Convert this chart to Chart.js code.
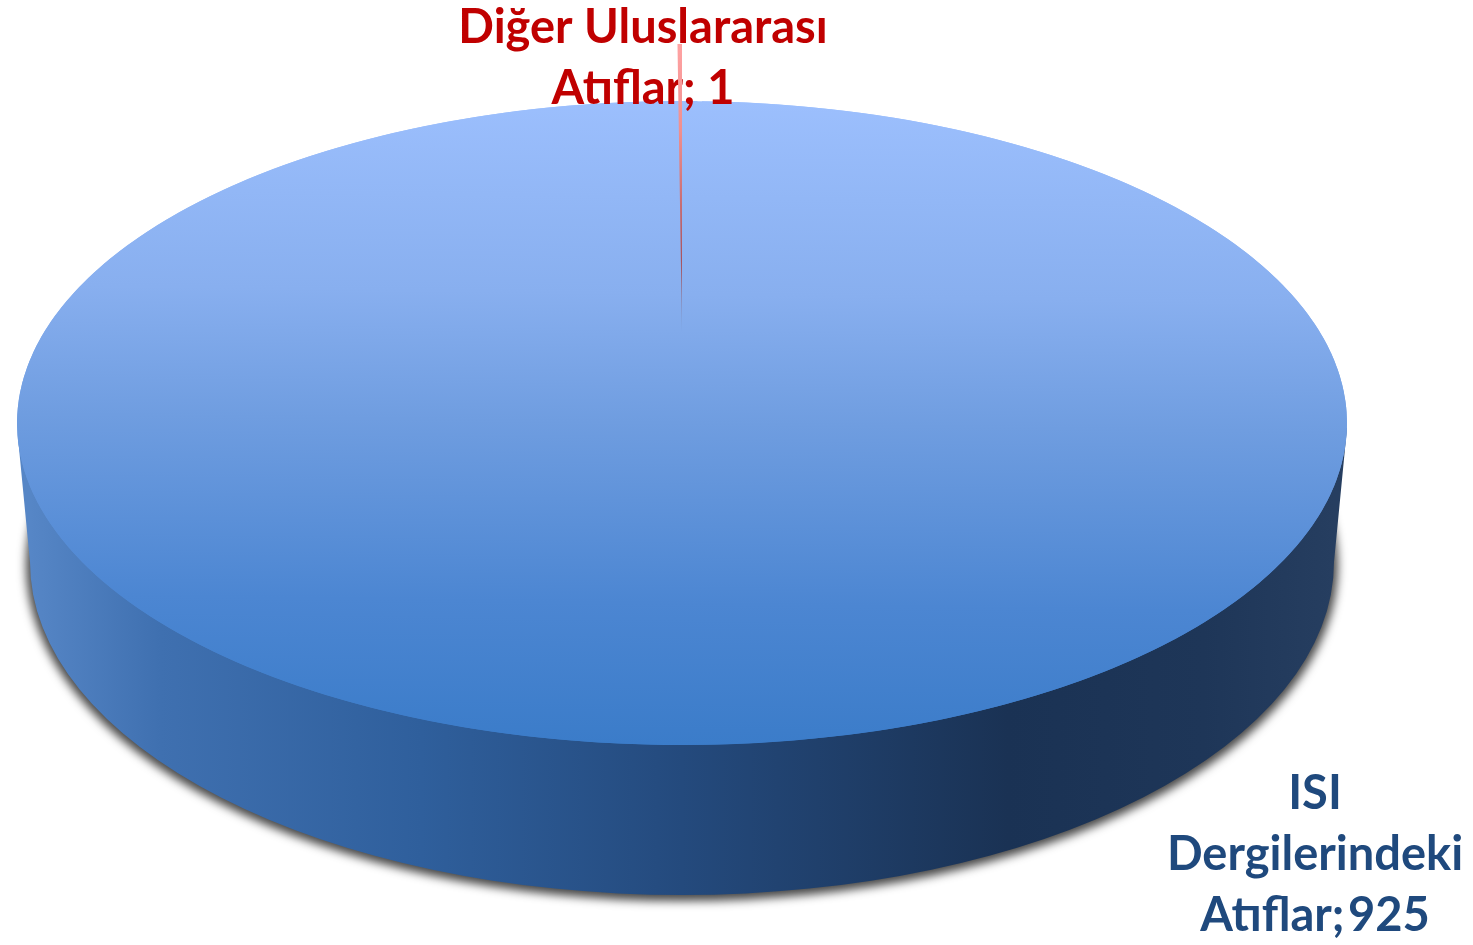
<!DOCTYPE html>
<html lang="tr">
<head>
<meta charset="utf-8">
<title>Atıflar</title>
<style>html,body{margin:0;padding:0;background:#fff;overflow:hidden}canvas{display:block}</style>
<script src="https://cdn.jsdelivr.net/npm/chart.js@4"></script>
</head>
<body>
<canvas id="c" width="1473" height="945"></canvas>
<script>
const categories = ["ISI Dergilerindeki Atıflar", "Diğer Uluslararası Atıflar"];
const seriesValues = [925, 1];
const isiLabelLines = ["ISI", "Dergilerindeki", "Atıflar; 925"];
const otherLabelLines = ["Diğer Uluslararası", "Atıflar; 1"];

const TOP = {cx: 682, cy: 423, rx: 665, ry: 322};
const BOTTOM = {cx: 682, cy: 562, rx: 652, ry: 333};
const SLIVER = {cx: 682, cy: 333, rx: 665, ry: 289};
const FONT = "bold 47px Lato, 'Open Sans', sans-serif";

function geom(chart) {
  const a = chart.chartArea;
  return {x: (a.left + a.right) / 2, y: (a.top + a.bottom) / 2, r: Math.min(a.right - a.left, a.bottom - a.top) / 2};
}
function sliceFill(c) {
  const chart = c.chart;
  if (!chart.chartArea) return '#4f81bd';
  const g = geom(chart);
  if (c.dataIndex === 0) {
    const t = chart.ctx.createLinearGradient(0, g.y - g.r, 0, g.y + g.r);
    t.addColorStop(0, '#9cbffd');
    t.addColorStop(0.3, '#88afef');
    t.addColorStop(0.5, '#6f9de0');
    t.addColorStop(0.78, '#4c86d2');
    t.addColorStop(1, '#3b7cc9');
    return t;
  }
  const s = chart.ctx.createLinearGradient(0, g.y - g.r, 0, g.y);
  s.addColorStop(0, '#ffa3a3');
  s.addColorStop(0.3, '#f08f8f');
  s.addColorStop(0.75, '#a8535f');
  s.addColorStop(1, '#6f94c8');
  return s;
}
function place(ctx, box, el, extraRot) {
  const r = el.outerRadius;
  ctx.translate(box.cx, box.cy);
  ctx.scale(box.rx / r, box.ry / r);
  if (extraRot) ctx.rotate(extraRot);
  ctx.translate(-el.x, -el.y);
}
function drawLines(ctx, lines, x, y0, color, wordGap) {
  ctx.save();
  ctx.font = FONT;
  ctx.fillStyle = color;
  ctx.textAlign = 'center';
  ctx.textBaseline = 'alphabetic';
  ctx.wordSpacing = wordGap;
  lines.forEach((t, i) => ctx.fillText(t, x, y0 + i * 61));
  ctx.restore();
}
const pie3d = {
  id: 'pie3d',
  beforeDatasetDraw(chart) {
    const ctx = chart.ctx;
    const [main, other] = chart.getDatasetMeta(0).data;

    // cast shadow: the shape sits off the canvas, only its blurred shadow lands on it
    const away = 3000;
    ctx.save();
    ctx.shadowColor = 'rgba(0,0,0,0.72)';
    ctx.shadowBlur = 10;
    ctx.shadowOffsetX = away;
    ctx.shadowOffsetY = 3;
    ctx.fillStyle = '#000';
    ctx.beginPath();
    ctx.ellipse(BOTTOM.cx - away, BOTTOM.cy, BOTTOM.rx + 4, BOTTOM.ry + 3, 0, 0, Math.PI * 2);
    ctx.fill();
    ctx.restore();

    // side wall
    const w = ctx.createLinearGradient(BOTTOM.cx - BOTTOM.rx, 0, BOTTOM.cx + BOTTOM.rx, 0);
    w.addColorStop(0, '#5686c6');
    w.addColorStop(0.1, '#3f70b0');
    w.addColorStop(0.3, '#2f5f9c');
    w.addColorStop(0.5, '#244a7d');
    w.addColorStop(0.75, '#1a3254');
    w.addColorStop(0.9, '#1e3658');
    w.addColorStop(1, '#263e60');
    ctx.save();
    ctx.fillStyle = w;
    ctx.beginPath();
    ctx.moveTo(TOP.cx - TOP.rx + 1, TOP.cy + 15);
    ctx.lineTo(BOTTOM.cx - BOTTOM.rx, BOTTOM.cy);
    ctx.ellipse(BOTTOM.cx, BOTTOM.cy, BOTTOM.rx, BOTTOM.ry, 0, Math.PI, 0, true);
    ctx.lineTo(TOP.cx + TOP.rx, TOP.cy + 5);
    ctx.closePath();
    ctx.fill();
    ctx.restore();

    // top face: drawn a second time slightly turned so the other slice's notch is covered
    [0, 0.03].forEach(rot => {
      ctx.save();
      place(ctx, TOP, main, rot);
      main.draw(ctx);
      ctx.restore();
    });

    drawLines(ctx, otherLabelLines, 643, 43, '#C00000', '0px');
    drawLines(ctx, isiLabelLines, 1315, 809, '#1F497D', '-8px');

    ctx.save();
    place(ctx, SLIVER, other, 0);
    other.draw(ctx);
    ctx.restore();
    return false;
  }
};
new Chart(document.getElementById('c'), {
  type: 'pie',
  data: {labels: categories, datasets: [{data: seriesValues, backgroundColor: sliceFill, borderWidth: 0}]},
  options: {
    responsive: false,
    animation: false,
    events: [],
    plugins: {legend: {display: false}, tooltip: {enabled: false}, title: {display: false}}
  },
  plugins: [pie3d]
});
</script>
</body>
</html>
